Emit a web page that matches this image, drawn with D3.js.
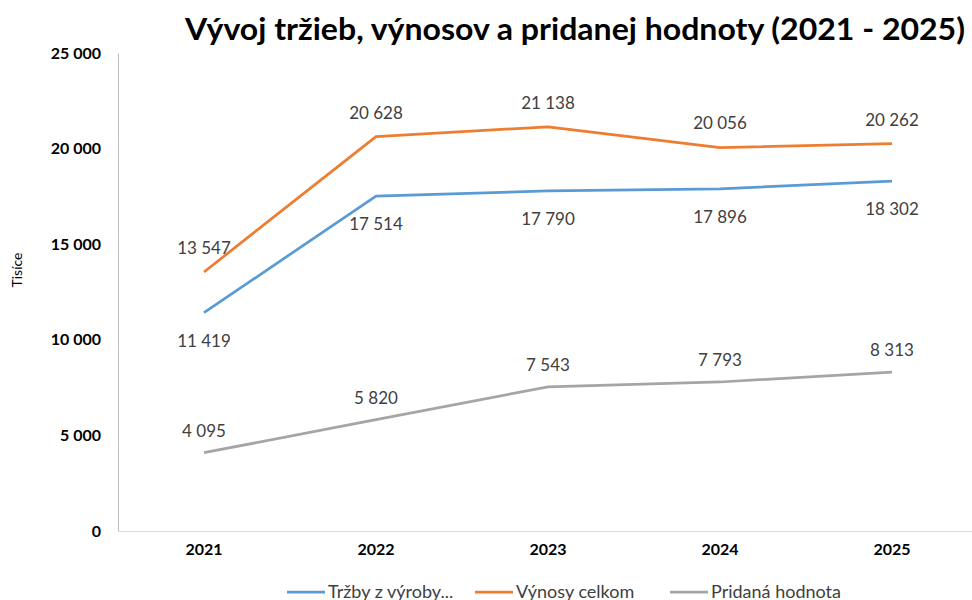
<!DOCTYPE html>
<html>
<head>
<meta charset="utf-8">
<script src="https://cdn.jsdelivr.net/npm/d3@7"></script>
<style>
  body { margin: 0; background: #fff; }
  svg { font-family: Lato, "Open Sans", sans-serif; }
</style>
</head>
<body>
<script>
var years = ['2021', '2022', '2023', '2024', '2025'];
var trzby = [11419, 17514, 17790, 17896, 18302];
var vynosy = [13547, 20628, 21138, 20056, 20262];
var pridana = [4095, 5820, 7543, 7793, 8313];
var yTicks = [0, 5000, 10000, 15000, 20000, 25000];
var seriesNames = ['Tržby z výroby...', 'Výnosy celkom', 'Pridaná hodnota'];

var series = [
  { name: seriesNames[0], values: trzby, color: '#5b9bd5', labelDy: 28 },
  { name: seriesNames[1], values: vynosy, color: '#ed7d31', labelDy: -24 },
  { name: seriesNames[2], values: pridana, color: '#a5a5a5', labelDy: -22 }
];

var width = 972, height = 600;
var plotLeft = 118, plotRight = 978, plotTop = 53, plotBottom = 531;

var svg = d3.select('body').append('svg')
  .attr('width', width)
  .attr('height', height);

var x = d3.scaleBand().domain(years).range([plotLeft, plotRight]);
var y = d3.scaleLinear().domain([0, 25000]).range([plotBottom, plotTop]);

var fmt = function(v) { return d3.format(',')(v).replace(/,/g, ' '); };

// title
svg.append('text')
  .attr('x', 575).attr('y', 40)
  .attr('text-anchor', 'middle')
  .attr('font-size', 31).attr('font-weight', 'bold')
  .attr('fill', '#000')
  .attr('textLength', 780).attr('lengthAdjust', 'spacingAndGlyphs')
  .text('Vývoj tržieb, výnosov a pridanej hodnoty (2021 - 2025)');

// y axis
var yAxis = svg.append('g')
  .attr('transform', 'translate(' + plotLeft + ',0)')
  .call(d3.axisLeft(y).tickValues(yTicks).tickSize(0).tickPadding(17).tickFormat(fmt))
  .attr('font-family', null);
yAxis.select('.domain').attr('stroke', '#bfbfbf');
yAxis.selectAll('text')
  .attr('font-size', 16).attr('font-weight', 'bold').attr('fill', '#000');

// x axis
var xAxis = svg.append('g')
  .attr('transform', 'translate(0,' + plotBottom + ')')
  .call(d3.axisBottom(x).tickSize(0).tickPadding(13))
  .attr('font-family', null);
xAxis.select('.domain').attr('stroke', '#d9d9d9');
xAxis.selectAll('text')
  .attr('font-size', 16).attr('font-weight', 'bold').attr('fill', '#000');

// y axis title
svg.append('text')
  .attr('transform', 'translate(22,270) rotate(-90)')
  .attr('text-anchor', 'middle')
  .attr('font-size', 14).attr('fill', '#000')
  .text('Tisíce');

var line = d3.line()
  .x(function(d, i) { return x(years[i]) + x.bandwidth() / 2; })
  .y(function(d) { return y(d); });

series.forEach(function(s) {
  svg.append('path')
    .datum(s.values)
    .attr('fill', 'none')
    .attr('stroke', s.color)
    .attr('stroke-width', 2.75)
    .attr('stroke-linejoin', 'round')
    .attr('d', line);

  svg.selectAll(null)
    .data(s.values)
    .enter().append('text')
      .attr('x', function(d, i) { return x(years[i]) + x.bandwidth() / 2; })
      .attr('y', function(d) { return y(d) + s.labelDy; })
      .attr('dy', '0.35em')
      .attr('text-anchor', 'middle')
      .attr('font-size', 17)
      .attr('fill', '#404040')
      .text(fmt);
});

// legend
var legendX = [287, 475, 670];
var legend = svg.selectAll('.legend')
  .data(series)
  .enter().append('g')
    .attr('class', 'legend')
    .attr('transform', function(d, i) { return 'translate(' + legendX[i] + ',592)'; });
legend.append('line')
  .attr('x1', 0).attr('x2', 38)
  .attr('stroke', function(d) { return d.color; })
  .attr('stroke-width', 2.75);
legend.append('text')
  .attr('x', 41).attr('dy', '0.35em')
  .attr('font-size', 18).attr('fill', '#404040')
  .text(function(d) { return d.name; });
</script>
</body>
</html>
